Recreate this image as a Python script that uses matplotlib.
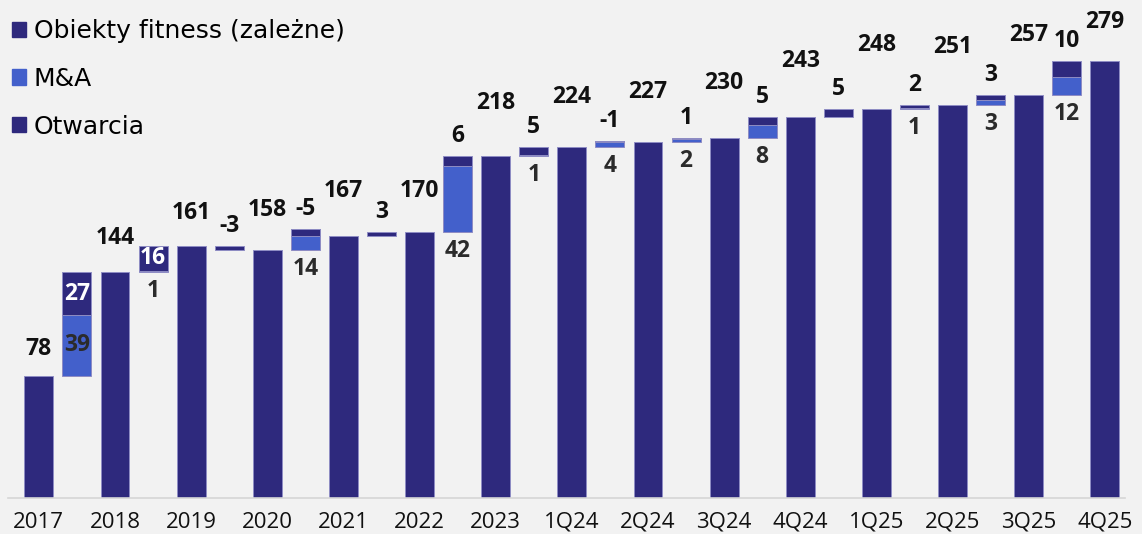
"""Waterfall: liczba obiektów fitness (zależne) z rozbiciem zmian na M&A i otwarcia."""

import matplotlib.pyplot as plt
import numpy as np
from matplotlib.patches import Patch

periods = ["2017", "2018", "2019", "2020", "2021", "2022", "2023", "1Q24",
           "2Q24", "3Q24", "4Q24", "1Q25", "2Q25", "3Q25", "4Q25"]
totals = [78, 144, 161, 158, 167, 170, 218, 224, 227, 230, 243, 248, 251, 257, 279]
# zmiany pomiędzy kolejnymi okresami (None = brak wartości)
ma = [39, 1, None, 14, None, 42, 1, 4, 2, 8, None, 1, 3, 12]
openings = [27, 16, -3, -5, 3, 6, 5, -1, 1, 5, 5, 2, 3, 10]

# ułożenie etykiet jak w oryginale
total_label_lift = [27, 34, 33, 40, 45, 41, 53, 50, 50, 55, 56, 64, 58, 60, 39]  # px
open_inside = [True, True] + [False] * 12
ma_inside = [True] + [False] * 13

NAVY = "#2E297D"
BLUE = "#4360CB"
EDGE = "#8E8CC4"
BG = "#F2F2F2"
FONT = "Open Sans"


def main() -> None:
    plt.rcParams["font.family"] = [FONT, "DejaVu Sans"]
    fig = plt.figure(figsize=(11.42, 5.34), dpi=100, facecolor=BG)
    ax = fig.add_axes([8 / 1142, 36 / 534, 1117 / 1142, 470 / 534])
    ax.set_facecolor(BG)

    n = len(totals)
    x_tot = np.arange(n) * 2
    x_delta = np.arange(n - 1) * 2 + 1
    w = 0.76
    px_pt = 72 / 100
    fs = 16.5

    ax.bar(x_tot, totals, w, color=NAVY, edgecolor=EDGE, linewidth=0.7, zorder=2)
    for x, v, lift in zip(x_tot, totals, total_label_lift):
        ax.annotate(f"{v}", (x, v), xytext=(0, lift * px_pt), textcoords="offset points",
                    ha="center", va="center", fontsize=fs, fontweight="bold",
                    color="#111111")

    for i, x in enumerate(x_delta):
        start = totals[i]
        m = ma[i] or 0
        o = openings[i]
        if m:
            ax.bar(x, m, w, bottom=start, color=BLUE, edgecolor=EDGE, linewidth=0.7, zorder=2)
        top_ma = start + m
        if o >= 0:
            ax.bar(x, o, w, bottom=top_ma, color=NAVY, edgecolor=EDGE, linewidth=0.7, zorder=3)
        else:
            ax.bar(x, -o, w, bottom=top_ma + o, color=NAVY, edgecolor=EDGE, linewidth=0.7, zorder=3)
        bar_top = max(top_ma, top_ma + o)
        bar_bottom = min(start, top_ma + o)

        if open_inside[i]:
            ax.text(x, top_ma + o / 2, f"{o}", ha="center", va="center", fontsize=fs,
                    fontweight="bold", color="white", zorder=4)
        else:
            ax.annotate(f"{o}", (x, bar_top), xytext=(0, 20 * px_pt), textcoords="offset points",
                        ha="center", va="center", fontsize=fs, fontweight="bold",
                        color="#111111")
        if ma[i] is not None:
            if ma_inside[i]:
                ax.text(x, start + m / 2, f"{m}", ha="center", va="center", fontsize=fs,
                        fontweight="bold", color="#2b2b2b", zorder=4)
            else:
                ax.annotate(f"{m}", (x, bar_bottom), xytext=(0, -19 * px_pt),
                            textcoords="offset points", ha="center", va="center",
                            fontsize=fs, fontweight="bold", color="#2b2b2b")

    ax.set_xlim(-0.81, x_tot[-1] + 0.53)
    ax.set_ylim(0, 300)
    ax.set_xticks(x_tot)
    ax.set_xticklabels(periods, fontsize=16, color="#111111")
    ax.tick_params(axis="x", length=0, pad=10)
    ax.set_yticks([])
    for side in ["top", "left", "right"]:
        ax.spines[side].set_visible(False)
    ax.spines["bottom"].set_color("#D6D6D6")
    ax.spines["bottom"].set_linewidth(1.2)

    handles = [Patch(color=NAVY), Patch(color=BLUE), Patch(color=NAVY)]
    labels = ["Obiekty fitness (zależne)", "M&A", "Otwarcia"]
    fig.legend(handles, labels, loc="upper left", bbox_to_anchor=(12 / 1142, 1 - 19 / 534),
               frameon=False, prop={"family": "DejaVu Sans", "size": 18},
               handlelength=0.56, handleheight=0.56, handletextpad=0.3,
               labelspacing=0.95, borderaxespad=0, borderpad=0)

    fig.savefig("out.png", dpi=100, facecolor=BG)
    plt.close(fig)


if __name__ == "__main__":
    main()
